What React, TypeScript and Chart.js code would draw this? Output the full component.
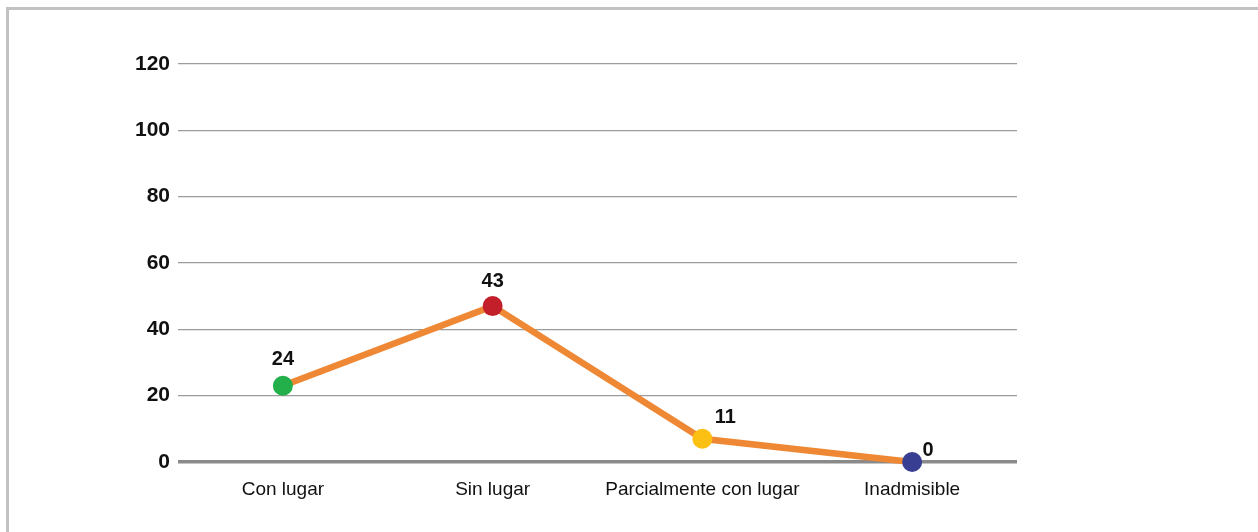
import React, { useEffect, useRef } from "react";
import { Chart, registerables } from "chart.js";

Chart.register(...registerables);

const categories = ["Con lugar", "Sin lugar", "Parcialmente con lugar", "Inadmisible"];
// plotted heights as drawn in the reference
const values = [23, 47, 7, 0];
// value labels printed next to each point
const valueLabels = ["24", "43", "11", "0"];
const pointColors = ["#23B04B", "#C21F2B", "#FCC014", "#383E92"];
const yTicks = [0, 20, 40, 60, 80, 100, 120];

const FONT = "'Liberation Sans', Arial, Helvetica, sans-serif";

const labelPlugin = {
  id: "valueLabels",
  afterDatasetsDraw(chart: any, _args: any, opts: any) {
    const meta = chart.getDatasetMeta(0);
    const ctx = chart.ctx;
    ctx.save();
    ctx.font = `bold 20px ${FONT}`;
    ctx.fillStyle = "#111";
    ctx.textAlign = "center";
    ctx.textBaseline = "middle";
    meta.data.forEach((pt: any, i: number) => {
      const off = opts.offsets[i] || [0, -25];
      ctx.fillText(valueLabels[i], pt.x + off[0], pt.y + off[1]);
    });
    ctx.restore();
  },
};

export default function App() {
  const ref = useRef<HTMLCanvasElement | null>(null);

  useEffect(() => {
    if (!ref.current) return;
    const chart = new Chart(ref.current, {
      type: "line",
      data: {
        labels: categories,
        datasets: [
          {
            data: values,
            borderColor: "#EF8834",
            borderWidth: 6.5,
            pointBackgroundColor: pointColors,
            pointBorderWidth: 0,
            pointRadius: 10,
            pointHoverRadius: 10,
            tension: 0,
            clip: false as any,
          },
        ],
      },
      options: {
        animation: false,
        responsive: false,
        maintainAspectRatio: false,
        layout: { padding: { left: 0, right: 241, top: 64, bottom: 0 } },
        plugins: {
          legend: { display: false },
          tooltip: { enabled: false },
          valueLabels: {
            offsets: [
              [0, -26],
              [0, -25],
              [23, -21],
              [16, -12],
            ],
          },
        } as any,
        scales: {
          x: {
            type: "category",
            offset: true,
            grid: { display: false, drawTicks: false },
            border: { display: false },
            ticks: {
              padding: 16,
              color: "#111",
              font: { family: FONT, size: 19 },
              maxRotation: 0,
              autoSkip: false,
            },
            afterFit: (s: any) => {
              s.height = 70;
            },
          },
          y: {
            min: 0,
            max: 120,
            afterBuildTicks: (s: any) => {
              s.ticks = yTicks.map((v) => ({ value: v }));
            },
            grid: {
              drawTicks: false,
              color: (c: any) => (c.tick && c.tick.value === 0 ? "#8a8a8a" : "#9c9c9c"),
              lineWidth: (c: any) => (c.tick && c.tick.value === 0 ? 3.5 : 1.3),
            },
            border: { display: false },
            ticks: {
              padding: 8,
              color: "#111",
              font: { family: FONT, size: 21, weight: "bold" },
            },
            afterFit: (s: any) => {
              s.width = 178;
            },
          },
        },
      },
      plugins: [labelPlugin],
    });
    return () => chart.destroy();
  }, []);

  return (
    <div
      style={{
        position: "fixed",
        left: 0,
        top: 0,
        width: 1258,
        height: 532,
        background: "#fff",
      }}
    >
      <div
        style={{
          position: "absolute",
          left: 6,
          top: 7,
          right: 0,
          bottom: 0,
          borderLeft: "3px solid #c2c2c2",
          borderTop: "3px solid #c2c2c2",
        }}
      />
      <canvas
        ref={ref}
        width={1258}
        height={532}
        style={{ position: "absolute", left: 0, top: 0, width: 1258, height: 532 }}
      />
    </div>
  );
}
